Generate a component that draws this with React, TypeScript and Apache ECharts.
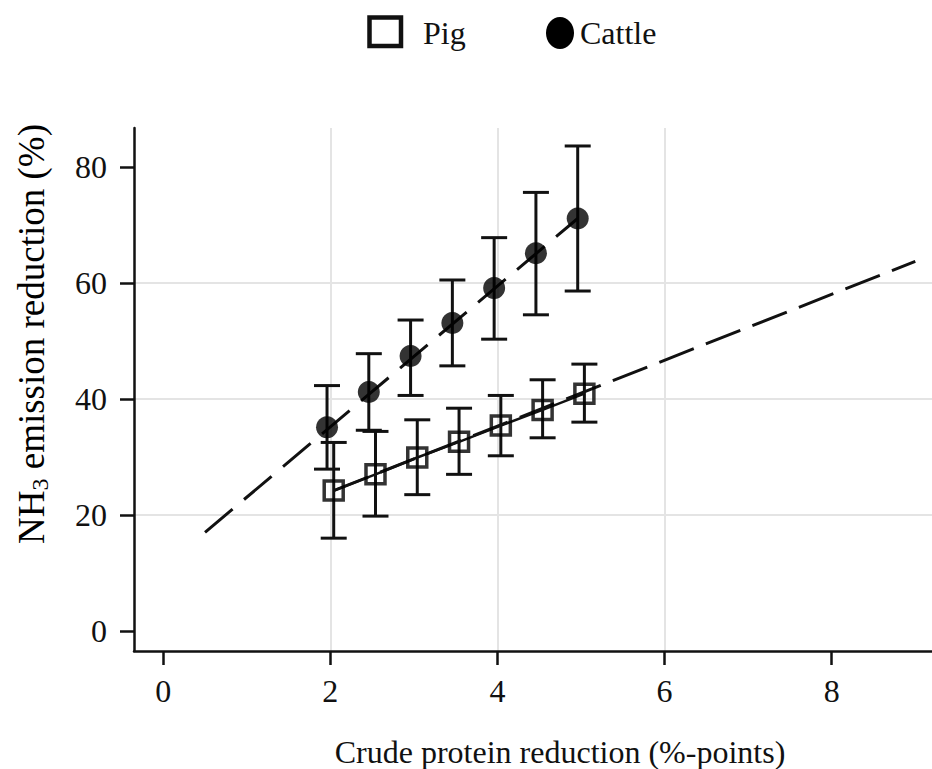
import React, { useEffect, useRef } from "react";
import * as echarts from "echarts";

// Axis ticks
const xTicks = [0, 2, 4, 6, 8];
const yTicks = [0, 20, 40, 60, 80];

// Pig: mean reduction with lower / upper bounds
const pigX = [2.04, 2.54, 3.04, 3.54, 4.04, 4.54, 5.04];
const pigMean = [24.2, 27.0, 29.9, 32.6, 35.4, 38.1, 40.9];
const pigLow = [16.0, 19.8, 23.5, 27.0, 30.2, 33.3, 36.0];
const pigHigh = [32.5, 34.4, 36.4, 38.4, 40.6, 43.3, 46.0];

// Cattle: mean reduction with lower / upper bounds
const cattleX = [1.96, 2.46, 2.96, 3.46, 3.96, 4.46, 4.96];
const cattleMean = [35.1, 41.2, 47.4, 53.1, 59.1, 65.1, 71.1];
const cattleLow = [27.9, 34.6, 40.6, 45.7, 50.3, 54.5, 58.6];
const cattleHigh = [42.3, 47.8, 53.6, 60.5, 67.8, 75.6, 83.6];

// Fitted lines (start and end points)
const pigFitX = [2.04, 9.0];
const pigFitY = [24.2, 63.7];
const cattleFitX = [0.5, 4.96];
const cattleFitY = [17.0, 71.1];

const FONT = "'Liberation Serif', 'Times New Roman', serif";

function errorBars(xs: number[], lo: number[], hi: number[], name: string) {
  return {
    type: "custom",
    name,
    z: 3,
    data: xs.map((x, i) => [x, lo[i], hi[i]]),
    encode: { x: 0, y: [1, 2] },
    renderItem: (_params: any, api: any) => {
      const x = api.value(0);
      const a = api.coord([x, api.value(1)]);
      const b = api.coord([x, api.value(2)]);
      const hw = 13;
      const style = { stroke: "#111", lineWidth: 3 };
      return {
        type: "group",
        children: [
          { type: "line", shape: { x1: a[0], y1: a[1], x2: b[0], y2: b[1] }, style },
          { type: "line", shape: { x1: a[0] - hw, y1: a[1], x2: a[0] + hw, y2: a[1] }, style },
          { type: "line", shape: { x1: b[0] - hw, y1: b[1], x2: b[0] + hw, y2: b[1] }, style },
        ],
      };
    },
  };
}

export default function App() {
  const ref = useRef<HTMLDivElement>(null);

  useEffect(() => {
    if (!ref.current) return;
    const chart = echarts.init(ref.current, undefined, { renderer: "svg" });
    const axisText = { color: "#111", fontSize: 32, fontFamily: FONT };
    chart.setOption({
      animation: false,
      backgroundColor: "#fff",
      grid: { left: 134, right: 0, top: 128, bottom: 118, containLabel: false },
      xAxis: {
        type: "value",
        min: -0.35,
        max: 9.2,
        axisLine: { show: true, onZero: false, lineStyle: { color: "#111", width: 2.5 } },
        axisTick: { show: true, customValues: xTicks, length: 14, lineStyle: { color: "#111", width: 2.5 } },
        axisLabel: { customValues: xTicks, margin: 24, ...axisText },
        splitLine: {
          show: true,
          showMinLine: false,
          showMaxLine: false,
          lineStyle: { color: "#e4e4e4", width: 2 },
        },
      },
      yAxis: {
        type: "value",
        min: -3.45,
        max: 86.7,
        axisLine: { show: true, onZero: false, lineStyle: { color: "#111", width: 2.5 } },
        axisTick: { show: true, customValues: yTicks, length: 14, lineStyle: { color: "#111", width: 2.5 } },
        axisLabel: { customValues: yTicks, margin: 27, ...axisText },
        splitLine: {
          show: true,
          showMinLine: false,
          showMaxLine: false,
          lineStyle: { color: "#e4e4e4", width: 2 },
        },
      },
      series: [
        {
          type: "line",
          name: "Pig fit",
          z: 2,
          symbol: "none",
          data: pigFitX.map((x, i) => [x, pigFitY[i]]),
          lineStyle: { color: "#111", width: 3, type: [37, 13] },
        },
        {
          type: "line",
          name: "Cattle fit",
          z: 2,
          symbol: "none",
          data: cattleFitX.map((x, i) => [x, cattleFitY[i]]),
          lineStyle: { color: "#111", width: 3, type: [36, 15] },
        },
        {
          type: "line",
          name: "Pig trend",
          z: 2,
          symbol: "none",
          data: pigX.map((x, i) => [x, pigMean[i]]),
          lineStyle: { color: "#111", width: 2.5 },
        },
        errorBars(pigX, pigLow, pigHigh, "Pig range"),
        errorBars(cattleX, cattleLow, cattleHigh, "Cattle range"),
        {
          type: "scatter",
          name: "Pig",
          z: 4,
          symbol: "rect",
          symbolSize: 19,
          data: pigX.map((x, i) => [x, pigMean[i]]),
          itemStyle: { color: "rgba(0,0,0,0)", borderColor: "#000", borderWidth: 3.5 },
        },
        {
          type: "scatter",
          name: "Cattle",
          z: 4,
          symbol: "circle",
          symbolSize: 22,
          data: cattleX.map((x, i) => [x, cattleMean[i]]),
          itemStyle: { color: "#000" },
        },
      ],
      graphic: [
        // legend
        {
          type: "rect",
          shape: { x: 369.5, y: 17.5, width: 31.5, height: 28.5 },
          style: { fill: "none", stroke: "#111", lineWidth: 4.5 },
        },
        {
          type: "text",
          x: 423,
          y: 33,
          style: { text: "Pig", fill: "#111", font: `32px ${FONT}`, verticalAlign: "middle" },
        },
        {
          type: "ellipse",
          shape: { cx: 560, cy: 33, rx: 14, ry: 16 },
          style: { fill: "#000" },
        },
        {
          type: "text",
          x: 580,
          y: 33,
          style: { text: "Cattle", fill: "#111", font: `32px ${FONT}`, verticalAlign: "middle" },
        },
        // axis titles
        {
          type: "text",
          x: 560,
          y: 752,
          style: {
            text: "Crude protein reduction (%-points)",
            fill: "#111",
            font: `32px ${FONT}`,
            align: "center",
            verticalAlign: "middle",
          },
        },
        {
          type: "text",
          x: 31,
          y: 334,
          rotation: Math.PI / 2,
          style: {
            text: "{m|NH}{s|3}{m| emission reduction (%)}",
            align: "center",
            verticalAlign: "middle",
            rich: {
              m: { fontSize: 37, fontFamily: FONT, color: "#111", lineHeight: 44 },
              s: { fontSize: 24, fontFamily: FONT, color: "#111", lineHeight: 44, padding: [18, 0, 0, 0] },
            },
          },
        },
      ],
    });
    return () => chart.dispose();
  }, []);

  return (
    <div
      ref={ref}
      style={{ position: "fixed", left: 0, top: 0, width: 932, height: 769, background: "#fff" }}
    />
  );
}
